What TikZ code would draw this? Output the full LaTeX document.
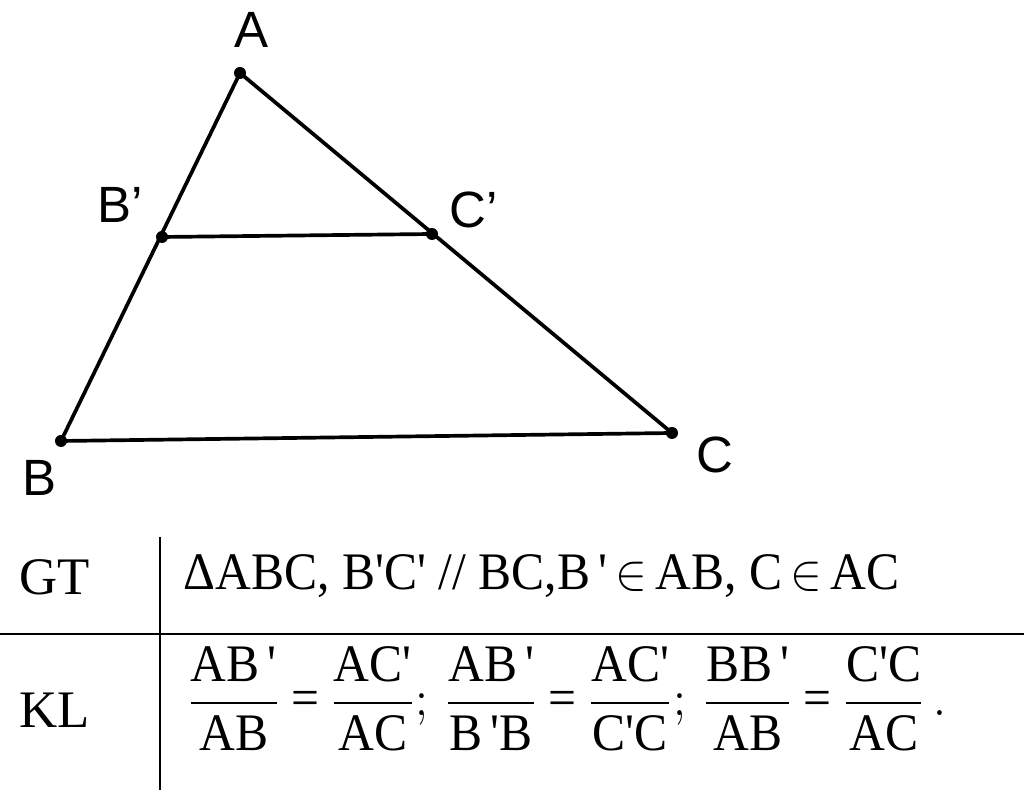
\documentclass[tikz,border=0pt]{standalone}
\usepackage{amsmath}
\usepackage{fontspec}
\setmainfont{Liberation Serif}[Ligatures=TeXOff]
\newfontfamily\ptfont{Liberation Sans}
\usetikzlibrary{positioning}

\begin{document}
\begin{tikzpicture}[x=0.01cm, y=-0.01cm,
    seg/.style={line width=1.05pt, line cap=round},
    rule/.style={line width=0.7pt},
    dot/.style={circle, fill, inner sep=0pt, minimum size=0.12cm},
    ptlabel/.style={font=\ptfont\fontsize{14.5}{16}\selectfont, inner sep=0pt},
    celltext/.style={font=\fontsize{15}{18}\selectfont, inner sep=0pt},
    squeezed/.style={xscale=0.94, transform shape}
]
\useasboundingbox (0,0) rectangle (1024,801);

% triangle
\coordinate (A) at (240,73);
\coordinate (Bp) at (162,237);
\coordinate (Cp) at (432,234);
\coordinate (B) at (61,441);
\coordinate (C) at (672,433);

\draw[seg] (A) -- (B) -- (C) -- cycle;
\draw[seg] (Bp) -- (Cp);

\node[dot] (dA) at (A) {};
\node[dot] (dBp) at (Bp) {};
\node[dot] (dCp) at (Cp) {};
\node[dot] (dB) at (B) {};
\node[dot] (dC) at (C) {};

\node[ptlabel] (lA) at (252,30) {A};
\node[ptlabel] (lBp) at (120,205) {B’};
\node[ptlabel] (lCp) at (474,210) {C’};
\node[ptlabel] (lB) at (40,478) {B};
\node[ptlabel] (lC) at (715,455) {C};

% table
\draw[rule] (160,537) -- (160,790);
\draw[rule] (0,634) -- (1024,634);

\node[celltext] (gt) at (55,577) {GT};
\node[celltext] (kl) at (55,710) {KL};

\node[celltext, squeezed, anchor=base west] (hyp) at (183,590)
    {ΔABC, B'C' // BC,B\,'\,$\in$\,AB, C\,$\in$\,AC};
\node[celltext, squeezed, anchor=base west] (concl) at (186,716)
    {$\thickmuskip=4mu
     \dfrac{\text{AB\,'}}{\text{AB}} \mathrel{\text{=}} \dfrac{\text{AC'}}{\text{AC}};\,
     \dfrac{\text{AB\,'}}{\text{B\,'B}} \mathrel{\text{=}} \dfrac{\text{AC'}}{\text{C'C}};\,
     \dfrac{\text{BB\,'}}{\text{AB}} \mathrel{\text{=}} \dfrac{\text{C'C}}{\text{AC}}\,.$};
\end{tikzpicture}
\end{document}
